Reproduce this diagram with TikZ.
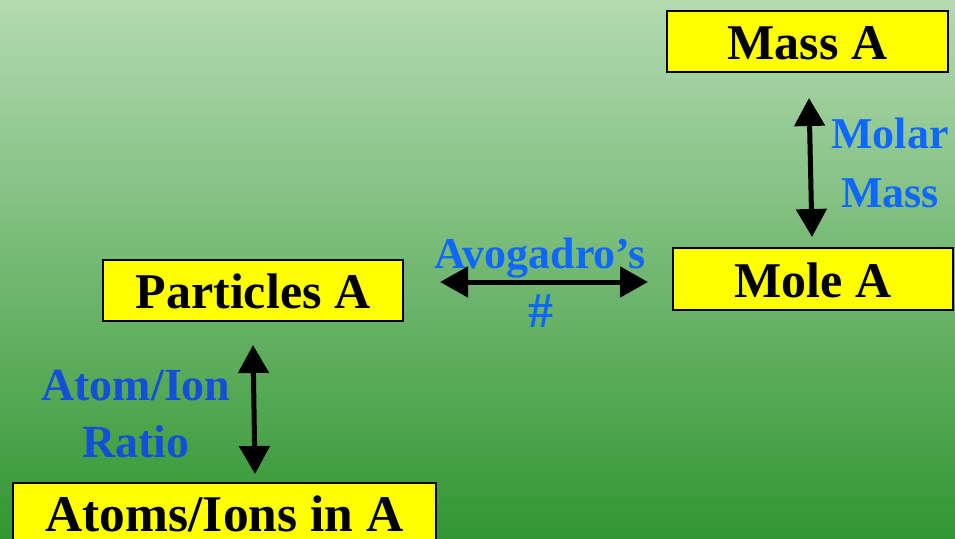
\documentclass[tikz,border=0pt]{standalone}
\usepackage{fontspec}
\setmainfont{Liberation Serif}
\usetikzlibrary{arrows.meta}
\definecolor{bgtop}{RGB}{180,218,178}
\definecolor{bgbot}{RGB}{50,150,50}
\definecolor{boxyellow}{RGB}{255,255,0}
\definecolor{lblblue}{RGB}{14,104,255}
\definecolor{lbldark}{RGB}{20,80,215}
\tikzset{
  conceptbox/.style={draw=black, line width=1.8pt, fill=boxyellow, inner sep=0pt,
    text height=36pt, text depth=0pt, font=\fontsize{50}{60}\selectfont\bfseries},
  linklabel/.style={anchor=base, text=lblblue, inner sep=0pt, font=\fontsize{44}{52}\selectfont\bfseries},
  dblarrow/.style={line width=5pt, {Triangle[width=30pt,length=28pt]}-{Triangle[width=30pt,length=28pt]}}
}
\begin{document}
\begin{tikzpicture}[x=1pt,y=-1pt]
\useasboundingbox (0,0) rectangle (955,538);
\clip (0,0) rectangle (955,538);
\shade[top color=bgtop, bottom color=bgbot] (0,0) rectangle (955,538);

\node[conceptbox, minimum width=281pt, minimum height=61pt] (mass) at (807.5,41.5) {Mass A};
\node[conceptbox, minimum width=280pt, minimum height=62pt] (mole) at (813,279) {Mole A};
\node[conceptbox, minimum width=300pt, minimum height=61pt] (part) at (253,290.5) {Particles A};
\node[conceptbox, minimum width=423pt, minimum height=61pt, font=\fontsize{51.5}{60}\selectfont\bfseries] (atoms) at (224.5,513.5) {Atoms/Ions in A};

\coordinate (mtop) at (809,98);
\coordinate (mbot) at (812,237);
\coordinate (aleft) at (440,282);
\coordinate (aright) at (648,282);
\coordinate (rtop) at (253,345);
\coordinate (rbot) at (255,474);

\draw[dblarrow] (mtop) -- (mbot);
\draw[dblarrow] (aleft) -- (aright);
\draw[dblarrow] (rtop) -- (rbot);

\node[linklabel] (molar1) at (890,148) {Molar};
\node[linklabel] (molar2) at (890,207) {Mass};
\node[linklabel] (avo1) at (540,268) {Avogadro’s};
\node[linklabel, font=\fontsize{50}{52}\selectfont\bfseries] (avo2) at (541,327) {\#};
\node[linklabel, text=lbldark, font=\fontsize{46}{52}\selectfont\bfseries] (ratio1) at (136,400) {Atom/Ion};
\node[linklabel, text=lbldark, font=\fontsize{46}{52}\selectfont\bfseries] (ratio2) at (136,457) {Ratio};
\end{tikzpicture}
\end{document}
